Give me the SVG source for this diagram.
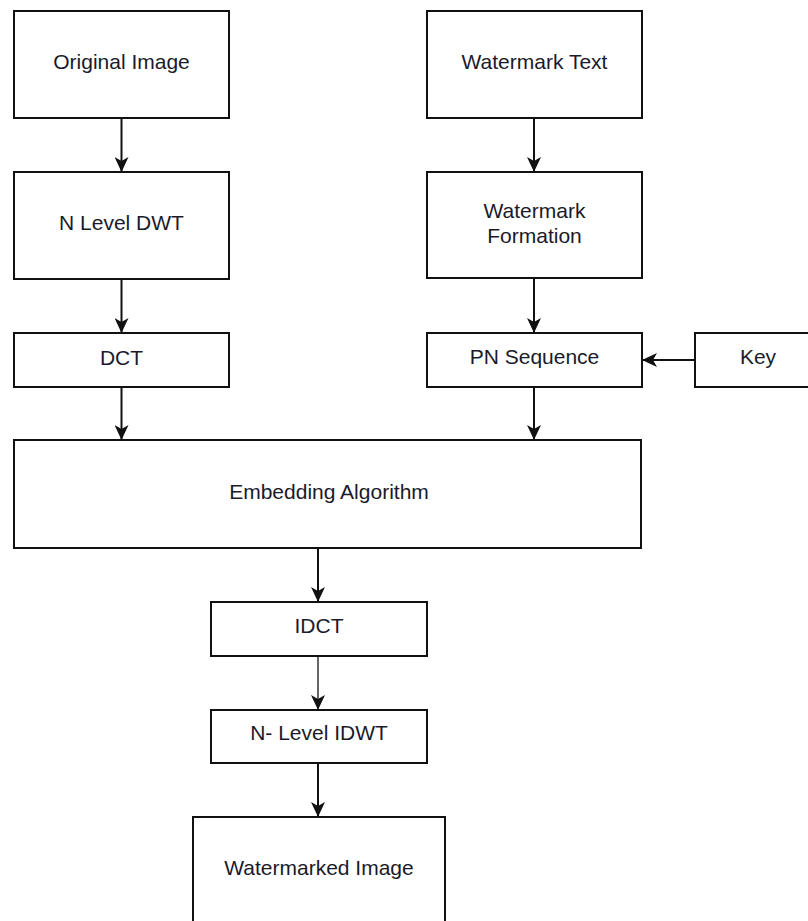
<svg xmlns="http://www.w3.org/2000/svg" width="808" height="921" viewBox="0 0 808 921">
<style>
.box{fill:#ffffff;stroke:#111111;stroke-width:2}
.lbl{font-family:"Liberation Sans",Arial,sans-serif;font-size:21px;fill:#1a1a2a;text-anchor:middle}
.edge{fill:none;stroke:#111111;stroke-width:2}
</style>
<defs>
<marker id="arr" markerUnits="userSpaceOnUse" markerWidth="15" markerHeight="14" viewBox="0 0 15 14" refX="15" refY="7" orient="auto">
<path d="M0,0 L15,7 L0,14 L4,7 Z" fill="#111111"/>
</marker>
</defs>
<rect width="808" height="921" fill="#ffffff"/>
<g id="connectors">
<line class="edge" x1="121.5" y1="118" x2="121.5" y2="172" marker-end="url(#arr)"/>
<line class="edge" x1="121.5" y1="279" x2="121.5" y2="333" marker-end="url(#arr)"/>
<line class="edge" x1="121.5" y1="387" x2="121.5" y2="440" marker-end="url(#arr)"/>
<line class="edge" x1="534" y1="118" x2="534" y2="172" marker-end="url(#arr)"/>
<line class="edge" x1="534" y1="278" x2="534" y2="333" marker-end="url(#arr)"/>
<line class="edge" x1="534" y1="387" x2="534" y2="440" marker-end="url(#arr)"/>
<line class="edge" x1="695" y1="360" x2="642" y2="360" marker-end="url(#arr)"/>
<line class="edge" x1="318" y1="548" x2="318" y2="602" marker-end="url(#arr)"/>
<line class="edge" x1="318" y1="656" x2="318" y2="710" marker-end="url(#arr)" style="stroke:#666666"/>
<line class="edge" x1="318" y1="763" x2="318" y2="817" marker-end="url(#arr)"/>
</g>
<g id="original-image"><rect class="box" x="14" y="11" width="215" height="107"/><text class="lbl" x="121.5" y="69">Original Image</text></g>
<g id="n-level-dwt"><rect class="box" x="14" y="172" width="215" height="107"/><text class="lbl" x="121.5" y="230">N Level DWT</text></g>
<g id="dct"><rect class="box" x="14" y="333" width="215" height="54"/><text class="lbl" x="121.5" y="365">DCT</text></g>
<g id="watermark-text"><rect class="box" x="427" y="11" width="215" height="107"/><text class="lbl" x="534.5" y="69">Watermark Text</text></g>
<g id="watermark-formation"><rect class="box" x="427" y="172" width="215" height="106"/><text class="lbl" x="534.5" y="218">Watermark</text><text class="lbl" x="534.5" y="243">Formation</text></g>
<g id="pn-sequence"><rect class="box" x="427" y="333" width="215" height="54"/><text class="lbl" x="534.5" y="364">PN Sequence</text></g>
<g id="key"><rect class="box" x="695" y="333" width="126" height="54"/><text class="lbl" x="758" y="364">Key</text></g>
<g id="embedding-algorithm"><rect class="box" x="14" y="440" width="627" height="108"/><text class="lbl" x="329" y="499">Embedding Algorithm</text></g>
<g id="idct"><rect class="box" x="211" y="602" width="216" height="54"/><text class="lbl" x="319" y="633">IDCT</text></g>
<g id="n-level-idwt"><rect class="box" x="211" y="710" width="216" height="53"/><text class="lbl" x="319" y="740">N- Level IDWT</text></g>
<g id="watermarked-image"><rect class="box" x="193" y="817" width="252" height="110"/><text class="lbl" x="319" y="875">Watermarked Image</text></g>
</svg>
